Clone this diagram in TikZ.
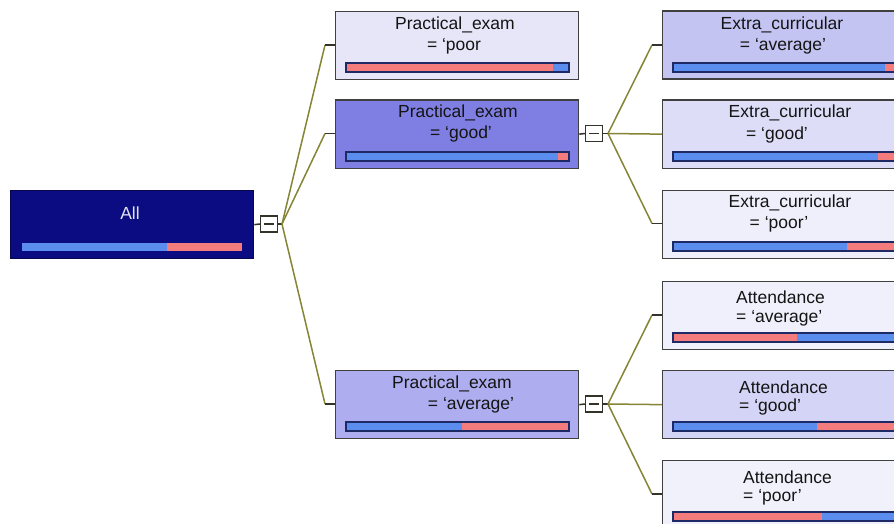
\documentclass[tikz,border=0pt]{standalone}
\usepackage{fontspec}
\setmainfont{Liberation Sans}
\newcommand\lab{\fontsize{17.5}{20}\selectfont}
\definecolor{navy}{HTML}{0C0C82}
\definecolor{pp}{HTML}{E6E6F8}
\definecolor{pg}{HTML}{7F7FE3}
\definecolor{pa}{HTML}{ADADF0}
\definecolor{ea}{HTML}{C4C4F3}
\definecolor{eg}{HTML}{DDDDF8}
\definecolor{ep}{HTML}{EFEFFB}
\definecolor{aa}{HTML}{F0F0FC}
\definecolor{ag}{HTML}{D4D4F6}
\definecolor{ap}{HTML}{F1F1FC}
\definecolor{bblue}{HTML}{5A8DEE}
\definecolor{bpink}{HTML}{F47C7C}
\definecolor{bedge}{HTML}{1E2A66}
\definecolor{olive}{HTML}{858535}
\definecolor{stubc}{HTML}{33332A}
\newcommand\splitbar[5]{%
  \fill[#4] (#1+11,#2+52) rectangle (#3,#2+61);
  \fill[#5] (#3,#2+52) rectangle (#1+234,#2+61);
  \draw[barline] (#1+11,#2+52) rectangle (#1+234,#2+61);}
\begin{document}
\begin{tikzpicture}[x=1pt,y=-1pt,
  tbox/.style={draw=black!75,line width=1.3pt,rectangle,minimum width=243pt,minimum height=68pt,inner sep=0pt,anchor=north west},
  barline/.style={draw=bedge,line width=1.5pt},
  txt/.style={font=\lab,inner sep=0pt,text=black!92},
  cbox/.style={draw=stubc,line width=1.2pt,fill=white,rectangle,minimum width=17pt,minimum height=16pt,inner sep=0pt},
  conn/.style={draw=olive,line width=1.5pt},
  stub/.style={draw=stubc,line width=1.5pt}]
\clip (0,0) rectangle (894,524);
\fill[white] (0,0) rectangle (894,524);

% boxes
\node[tbox,fill=navy,draw=navy!60!black] (all) at (10,190) {};
\node[tbox,fill=pp] (pp) at (335,11) {};
\node[tbox,fill=pg] (pg) at (335,99.5) {};
\node[tbox,fill=pa] (pa) at (335,370) {};
\node[tbox,fill=ea] (ea) at (662,10.5) {};
\node[tbox,fill=eg] (eg) at (662,99.5) {};
\node[tbox,fill=ep] (ep) at (662,189.5) {};
\node[tbox,fill=aa] (aa) at (662,281) {};
\node[tbox,fill=ag] (ag) at (662,370) {};
\node[tbox,fill=ap] (ap) at (662,460) {};

% bars
\fill[bblue] (22,243) rectangle (167,251);
\fill[bpink] (167,243) rectangle (242,251);
\splitbar{335}{11}{553}{bpink}{bblue}
\splitbar{335}{100}{558}{bblue}{bpink}
\splitbar{335}{370}{462}{bblue}{bpink}
\splitbar{662}{11}{885}{bblue}{bpink}
\splitbar{662}{100}{878}{bblue}{bpink}
\splitbar{662}{190}{847}{bblue}{bpink}
\splitbar{662}{281}{797}{bpink}{bblue}
\splitbar{662}{370}{817}{bblue}{bpink}
\splitbar{662}{460}{822}{bpink}{bblue}

% texts
\node[txt,text=white!88!navy] (tall) at (130,213) {All};
\node[txt] (t1a) at (455,25) {Practical\_exam};
\node[txt] (t1b) at (454,46) {= ‘poor};
\node[txt] (t2a) at (458,113) {Practical\_exam};
\node[txt] (t2b) at (461,134) {= ‘good’};
\node[txt] (t3a) at (452,384) {Practical\_exam};
\node[txt] (t3b) at (471,405) {= ‘average’};
\node[txt] (t4a) at (782,25) {Extra\_curricular};
\node[txt] (t4b) at (783,46) {= ‘average’};
\node[txt] (t5a) at (790,113) {Extra\_curricular};
\node[txt] (t5b) at (777,135) {= ‘good’};
\node[txt] (t6a) at (790,203) {Extra\_curricular};
\node[txt] (t6b) at (779,224) {= ‘poor’};
\node[txt,anchor=west] (t7a) at (736,297) {Attendance};
\node[txt,anchor=west] (t7b) at (736,318) {= ‘average’};
\node[txt,anchor=west] (t8a) at (739,387) {Attendance};
\node[txt,anchor=west] (t8b) at (739,407) {= ‘good’};
\node[txt,anchor=west] (t9a) at (743,477) {Attendance};
\node[txt,anchor=west] (t9b) at (743,497) {= ‘poor’};

% collapse boxes and forks
\node[cbox] (c1) at (269,224) {};
\node[cbox] (c2) at (594,133.5) {};
\node[cbox] (c3) at (594,404) {};
\foreach \c in {c1,c2,c3}
  \draw[stub,line width=1.2pt] ([xshift=-5pt]\c.center) -- ([xshift=5pt]\c.center);
\coordinate (f1) at (282,224);
\coordinate (f2) at (608,133.5);
\coordinate (f3) at (608,404);
\coordinate (b11) at (325,45);
\coordinate (b12) at (325,133.5);
\coordinate (b13) at (325,404);
\coordinate (b21) at (652,45);
\coordinate (b23) at (652,223.5);
\coordinate (b31) at (652,315);
\coordinate (b33) at (652,494);

\draw[stub] (all.east) -- (c1.west);
\draw[stub] (c1.east) -- (f1);
\draw[stub] (pg.east) -- (c2.west);
\draw[stub] (c2.east) -- (f2);
\draw[stub] (pa.east) -- (c3.west);
\draw[stub] (c3.east) -- (f3);

\draw[conn] (f1) -- (b11); \draw[stub] (b11) -- (pp.west |- b11);
\draw[conn] (f1) -- (b12); \draw[stub] (b12) -- (pg.west |- b12);
\draw[conn] (f1) -- (b13); \draw[stub] (b13) -- (pa.west |- b13);
\draw[conn] (f2) -- (b21); \draw[stub] (b21) -- (ea.west |- b21);
\draw[conn] (f2) -- (eg.west);
\draw[conn] (f2) -- (b23); \draw[stub] (b23) -- (ep.west |- b23);
\draw[conn] (f3) -- (b31); \draw[stub] (b31) -- (aa.west |- b31);
\draw[conn] (f3) -- (ag.west);
\draw[conn] (f3) -- (b33); \draw[stub] (b33) -- (ap.west |- b33);
\end{tikzpicture}
\end{document}
